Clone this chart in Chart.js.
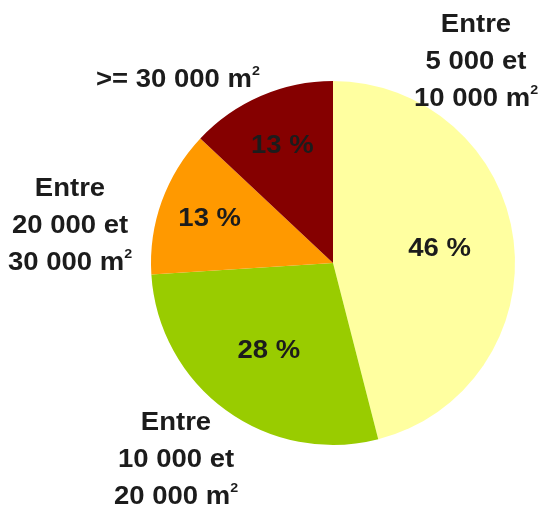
<!DOCTYPE html>
<html>
<head>
<meta charset="utf-8">
<script src="https://cdn.jsdelivr.net/npm/chart.js@4/dist/chart.umd.min.js"></script>
<style>
  body { margin: 0; background: #fff; }
  #wrap { width: 542px; height: 515px; }
</style>
</head>
<body>
<div id="wrap"><canvas id="chart-surface"></canvas></div>
<script>
// data
const categories = ['Entre 5 000 et 10 000 m²', 'Entre 10 000 et 20 000 m²', 'Entre 20 000 et 30 000 m²', '>= 30 000 m²']
const shares = [46, 28, 13, 13]
const sliceColors = ['#FFFFA0', '#99CC00', '#FF9900', '#850000']

// category labels, one line per entry; a trailing "^2" is drawn as superscript
const labelLines = [
    ['Entre', '5 000 et', '10 000 m^2'],
    ['Entre', '10 000 et', '20 000 m^2'],
    ['Entre', '20 000 et', '30 000 m^2'],
    ['>= 30 000 m^2']
]
const labelAnchor = [[476, 25], [176, 423], [70, 189], [178, 80]]
const lineGap = 37
// how far out the percentage sits, as share of the radius
const pctRadius = [0.59, 0.6, 0.72, 0.7]

const FONT = 'bold 25px "Liberation Sans", Arial, sans-serif'
const SUP_FONT = 'bold 13px "Liberation Sans", Arial, sans-serif'
const STRETCH = 1.1   // the source lettering is a bit wider than Arial

function drawLine(ctx, text, x, y) {
    let main = text, sup = ''
    if (text.endsWith('^2')) { main = text.slice(0, -2); sup = '2' }
    ctx.font = FONT
    const w1 = ctx.measureText(main).width
    ctx.font = SUP_FONT
    const w2 = sup ? ctx.measureText(sup).width : 0
    ctx.save()
    ctx.translate(x, y)
    ctx.scale(STRETCH, 1)
    const x0 = -(w1 + w2) / 2
    ctx.textAlign = 'left'
    ctx.textBaseline = 'middle'
    ctx.font = FONT
    ctx.fillText(main, x0, 0)
    if (sup) {
        ctx.font = SUP_FONT
        ctx.fillText(sup, x0 + w1, -9)
    }
    ctx.restore()
}

const textPlugin = {
    id: 'pieText',
    afterDatasetsDraw(chart) {
        const ctx = chart.ctx
        const arcs = chart.getDatasetMeta(0).data
        ctx.save()
        ctx.fillStyle = '#1c1c1c'
        arcs.forEach((arc, i) => {
            const p = arc.getProps(['x', 'y', 'startAngle', 'endAngle', 'outerRadius'], true)
            const mid = (p.startAngle + p.endAngle) / 2
            const r = p.outerRadius * pctRadius[i]
            drawLine(ctx, shares[i] + ' %', p.x + Math.cos(mid) * r, p.y + Math.sin(mid) * r)
        })
        labelLines.forEach((lines, i) => {
            lines.forEach((t, k) => {
                drawLine(ctx, t, labelAnchor[i][0], labelAnchor[i][1] + k * lineGap)
            })
        })
        ctx.restore()
    }
}

const ctx_pie = document.getElementById('chart-surface')
const chart_pie = new Chart(ctx_pie, {
    type: 'pie',
    data: {
        labels: categories,
        datasets: [{
            data: shares,
            backgroundColor: sliceColors,
            borderWidth: 0
        }]
    },
    options: {
        responsive: true,
        maintainAspectRatio: false,
        animation: false,
        layout: { padding: { left: 151, right: 27, top: 81, bottom: 70 } },
        plugins: {
            legend: { display: false },
            tooltip: { enabled: false }
        }
    },
    plugins: [textPlugin]
})
</script>
</body>
</html>
